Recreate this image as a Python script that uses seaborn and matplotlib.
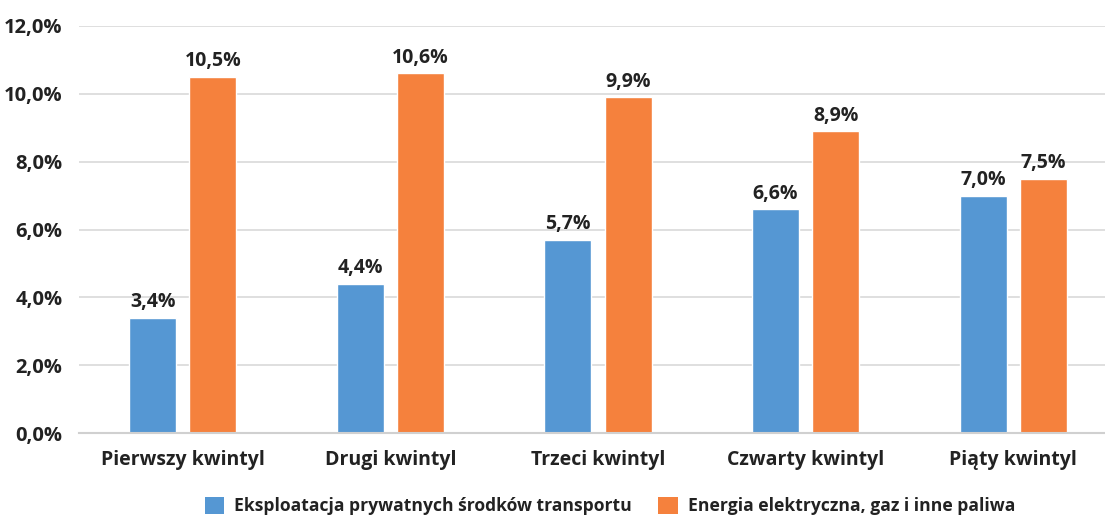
import matplotlib
matplotlib.use("Agg")
import matplotlib.pyplot as plt
from matplotlib.patches import Patch
import seaborn as sns
import pandas as pd

categories = ["Pierwszy kwintyl", "Drugi kwintyl", "Trzeci kwintyl", "Czwarty kwintyl", "Piąty kwintyl"]
series_names = ["Eksploatacja prywatnych środków transportu", "Energia elektryczna, gaz i inne paliwa"]
transport = [3.4, 4.4, 5.7, 6.6, 7.0]
energy = [10.5, 10.6, 9.9, 8.9, 7.5]
y_ticks = [0, 2, 4, 6, 8, 10, 12]

colors = ["#5597D3", "#F5813D"]
text_color = "#222222"

sns.set_theme(style="white")
plt.rcParams["font.family"] = ["Open Sans", "DejaVu Sans"]
plt.rcParams["font.weight"] = "bold"

df = pd.DataFrame({
    "kwintyl": categories * 2,
    "seria": [series_names[0]] * 5 + [series_names[1]] * 5,
    "wartosc": transport + energy,
})

fig = plt.figure(figsize=(11.05, 5.17), dpi=100)
ax = fig.add_axes([79 / 1105, 84 / 517, 1038 / 1105, 407 / 517])

sns.barplot(data=df, x="kwintyl", y="wartosc", hue="seria", order=categories,
            hue_order=series_names, palette=colors, width=0.58, gap=0.22,
            saturation=1, errorbar=None, legend=False, ax=ax)

ax.set_ylim(0, 12)
ax.set_xlim(-0.5, 4.5)
ax.set_yticks(y_ticks)
ax.set_yticklabels([f"{v:.1f}%".replace(".", ",") for v in y_ticks],
                   fontsize=14.5, fontweight="bold", color=text_color)
ax.set_xticks(range(len(categories)))
ax.set_xticklabels(categories, fontsize=14, fontweight="bold", color=text_color)
ax.tick_params(axis="y", length=0, pad=12)
ax.tick_params(axis="x", length=0, pad=12)
ax.set_xlabel("")
ax.set_ylabel("")

ax.yaxis.grid(True, color="#D9D9D9", linewidth=1.2)
ax.set_axisbelow(True)
for side in ["top", "right", "left"]:
    ax.spines[side].set_visible(False)
ax.spines["bottom"].set_color("#D0D0D0")
ax.spines["bottom"].set_linewidth(1.5)

for container in ax.containers:
    labels = [f"{b.get_height():.1f}%".replace(".", ",") for b in container]
    ax.bar_label(container, labels=labels, padding=4, fontsize=14,
                 fontweight="bold", color=text_color)

handles = [Patch(facecolor=c, edgecolor="none") for c in colors]
fig.legend(handles, series_names, loc="center", bbox_to_anchor=(610 / 1105, 11 / 517),
           ncol=2, frameon=False, handlelength=1.1, handleheight=1.1,
           handletextpad=0.6, columnspacing=1.5, prop={"weight": "bold", "size": 12.6})
for t in fig.legends[0].get_texts():
    t.set_color(text_color)

fig.savefig("out.png", dpi=100, facecolor="white")
